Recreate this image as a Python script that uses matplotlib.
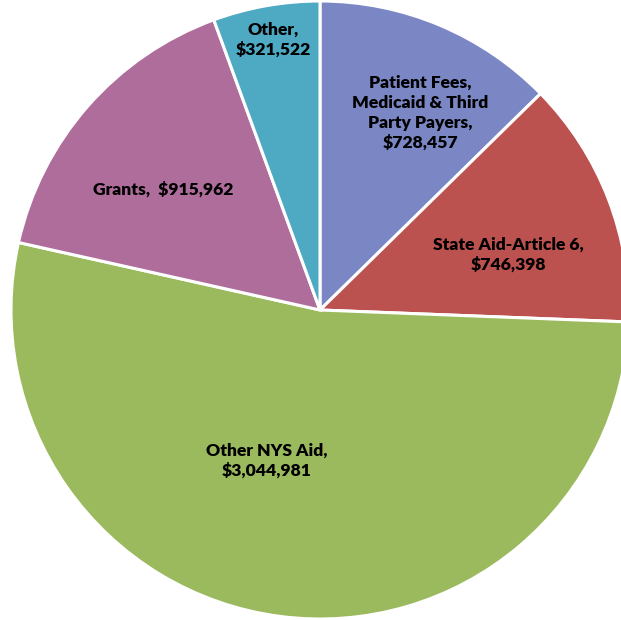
import matplotlib.pyplot as plt

# Datos del gráfico (en sentido horario desde las 12)
categories = [
    "Patient Fees,\nMedicaid & Third\nParty Payers,",
    "State Aid-Article 6,",
    "Other NYS Aid,",
    "Grants, ",
    "Other,",
]
values = [728457, 746398, 3044981, 915962, 321522]
colors = ["#7B87C5", "#BC5250", "#9BBA5E", "#AF6D9C", "#4EA9C3"]

# Posición de cada etiqueta relativa al centro (px)
label_offsets = [(100, 197), (188, 55), (-53, -151), (-157, 120), (-47, 270)]

plt.rcParams["font.family"] = ["Lato", "DejaVu Sans"]

fig = plt.figure(figsize=(6.21, 6.20), dpi=100)
ax = fig.add_axes([0, 0, 1, 1])

cx, cy, r = 320, 310, 309
ax.pie(
    values,
    colors=colors,
    startangle=90,
    counterclock=False,
    center=(cx, cy),
    radius=r,
    wedgeprops=dict(edgecolor="white", linewidth=2.2),
)

for cat, val, (dx, dy) in zip(categories, values, label_offsets):
    if cat.startswith("Grants"):
        txt = f"{cat} ${val:,}"
    else:
        txt = f"{cat}\n${val:,}"
    ax.text(cx + dx, cy + dy, txt, ha="center", va="center",
            fontsize=12.6, fontweight="heavy", color="black", linespacing=1.3)

ax.set_xlim(0, 621)
ax.set_ylim(0, 620)
ax.set_aspect("equal")
ax.axis("off")

fig.savefig("out.png", dpi=100)
